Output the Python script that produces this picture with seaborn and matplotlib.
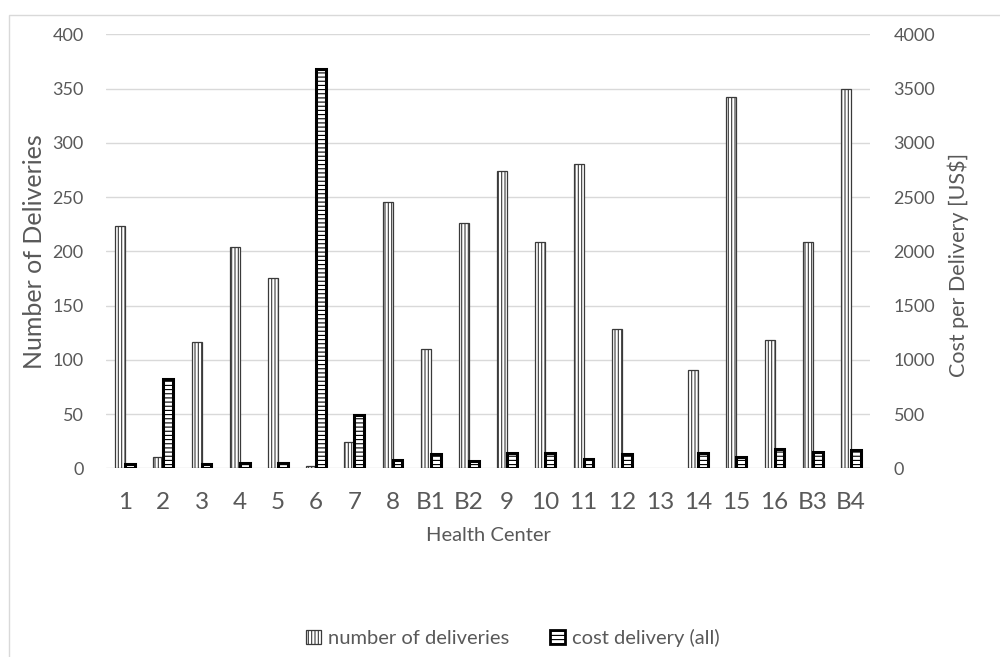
import numpy as np
import pandas as pd
import seaborn as sns
import matplotlib.pyplot as plt
from matplotlib.patches import Patch, Rectangle

# Health centers and their values
centers = ["1", "2", "3", "4", "5", "6", "7", "8", "B1", "B2",
           "9", "10", "11", "12", "13", "14", "15", "16", "B3", "B4"]
deliveries = [223, 10, 116, 204, 175, 2, 24, 245, 110, 226,
              274, 209, 280, 128, 0, 91, 342, 118, 209, 350]
cost_per_delivery = [40, 823, 40, 52, 52, 3677, 491, 75, 129, 64,
                     138, 138, 85, 130, 0, 144, 104, 181, 153, 168]
series = ["number of deliveries", "cost delivery (all)"]

sns.set_theme(style="white")
plt.rcParams["font.family"] = ["Lato", "DejaVu Sans"]
plt.rcParams["hatch.linewidth"] = 0.8

TXT = "#595959"
GRID = "#d9d9d9"

fig = plt.figure(figsize=(10, 6.57), dpi=100)
ax1 = fig.add_axes([0.106, 0.2872, 0.764, 0.6606])
ax2 = ax1.twinx()

df_del = pd.DataFrame({"center": centers, "value": deliveries, "series": series[0]})
df_cost = pd.DataFrame({"center": centers, "value": cost_per_delivery, "series": series[1]})

sns.barplot(data=df_del, x="center", y="value", hue="series", hue_order=series,
            order=centers, width=0.52, dodge=True, ax=ax1, saturation=1,
            palette=["white", "white"], edgecolor="#3a3a3a", linewidth=0.9,
            hatch="|||||", legend=False, errorbar=None)
sns.barplot(data=df_cost, x="center", y="value", hue="series", hue_order=series,
            order=centers, width=0.52, dodge=True, ax=ax2, saturation=1,
            palette=["white", "white"], edgecolor="black", linewidth=2.2,
            hatch="----", legend=False, errorbar=None)

# hide empty bars (no data)
for ax in (ax1, ax2):
    for p in ax.patches:
        if p.get_height() == 0:
            p.set_visible(False)

ax1.set_xlim(-0.5, len(centers) - 0.5)
ax1.set_ylim(0, 400)
ax2.set_ylim(0, 4000)
ax1.set_yticks(np.arange(0, 401, 50))
ax2.set_yticks(np.arange(0, 4001, 500))

ax1.set_axisbelow(True)
ax1.yaxis.grid(True, color=GRID, linewidth=1)
ax1.xaxis.grid(False)
ax2.grid(False)
for ax in (ax1, ax2):
    for s in ax.spines.values():
        s.set_visible(False)

ax1.tick_params(axis="y", length=0, pad=16, labelsize=13, labelcolor=TXT)
ax2.tick_params(axis="y", length=0, pad=17, labelsize=13, labelcolor=TXT)
ax1.tick_params(axis="x", length=0, pad=17, labelsize=17.5, labelcolor=TXT)

ax1.set_ylabel("Number of Deliveries", fontsize=18, color=TXT)
ax1.yaxis.set_label_coords(-0.0785, 0.5)
ax2.set_ylabel("Cost per Delivery [US$]", fontsize=15.5, color=TXT)
ax2.yaxis.set_label_coords(1.101, 0.468)
ax1.set_xlabel("Health Center", fontsize=14.5, color=TXT)
ax1.xaxis.set_label_coords(0.5, -0.136)

handles = [
    Patch(facecolor="white", edgecolor="#3a3a3a", linewidth=0.9, hatch="|||||", label=series[0]),
    Patch(facecolor="white", edgecolor="black", linewidth=2.0, hatch="----", label=series[1]),
]
fig.legend(handles=handles, loc="center", bbox_to_anchor=(0.513, 0.029), ncol=2,
           frameon=False, fontsize=14.5, labelcolor=TXT, handlelength=0.75,
           handleheight=0.75, handletextpad=0.35, columnspacing=2.0)

fig.add_artist(Rectangle((0.009, -0.01), 1.1, 1 - 15 / 657 + 0.01,
                         transform=fig.transFigure, fill=False,
                         edgecolor=GRID, linewidth=1))

fig.savefig("out.png", dpi=100, facecolor="white")
